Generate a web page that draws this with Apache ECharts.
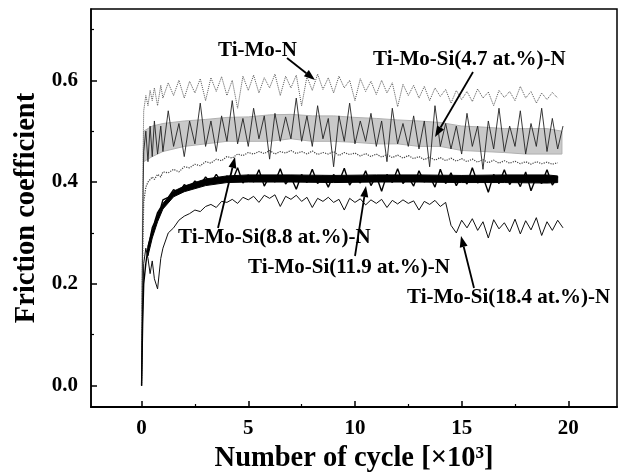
<!DOCTYPE html>
<html>
<head>
<meta charset="utf-8">
<script src="https://cdn.jsdelivr.net/npm/echarts@6/dist/echarts.min.js"></script>
<style>
html,body{margin:0;padding:0;background:#fff;}
#chart{width:622px;height:475px;}
</style>
</head>
<body>
<div id="chart"></div>
<script>
// ---- data (cycles in units of 10^3) ----
const cycles = [0, 0.05, 0.1, 0.2, 0.3, 0.4, 0.5, 0.6, 0.75, 0.9, 1.0,
  1.25, 1.5, 1.75, 2.0, 2.25, 2.5, 2.75, 3.0, 3.25, 3.5, 3.75, 4.0, 4.25, 4.5, 4.75,
  5.0, 5.25, 5.5, 5.75, 6.0, 6.25, 6.5, 6.75, 7.0, 7.25, 7.5, 7.75, 8.0, 8.25, 8.5, 8.75,
  9.0, 9.25, 9.5, 9.75, 10.0, 10.25, 10.5, 10.75, 11.0, 11.25, 11.5, 11.75, 12.0, 12.25,
  12.5, 12.75, 13.0, 13.25, 13.5, 13.75, 14.0, 14.25, 14.5, 14.75, 15.0, 15.25, 15.5, 15.75,
  16.0, 16.25, 16.5, 16.75, 17.0, 17.25, 17.5, 17.75, 18.0, 18.25, 18.5, 18.75, 19.0, 19.25,
  19.5, 19.75];

const tiMoN = [0.00, 0.40, 0.54, 0.57, 0.55, 0.58, 0.56, 0.585, 0.55, 0.59, 0.565,
  0.595, 0.57, 0.60, 0.565, 0.598, 0.575, 0.603, 0.56, 0.605, 0.578, 0.607, 0.57, 0.60, 0.545, 0.608,
  0.58, 0.61, 0.575, 0.605, 0.585, 0.612, 0.57, 0.608, 0.585, 0.61, 0.55, 0.607, 0.58, 0.612, 0.582, 0.605,
  0.575, 0.608, 0.585, 0.60, 0.56, 0.603, 0.578, 0.598, 0.572, 0.60, 0.575, 0.595, 0.548, 0.592,
  0.57, 0.59, 0.565, 0.588, 0.56, 0.585, 0.568, 0.582, 0.555, 0.58, 0.562, 0.578, 0.558, 0.583,
  0.565, 0.577, 0.55, 0.58, 0.566, 0.578, 0.56, 0.588, 0.565, 0.578, 0.555, 0.575, 0.562, 0.576,
  0.565, null];

const tiMoSi47 = [0.00, 0.30, 0.46, 0.50, 0.44, 0.51, 0.45, 0.52, 0.455, 0.51, 0.46,
  0.54, 0.47, 0.515, 0.45, 0.52, 0.475, 0.555, 0.47, 0.52, 0.46, 0.53, 0.48, 0.56, 0.475, 0.525,
  0.47, 0.545, 0.485, 0.53, 0.445, 0.535, 0.48, 0.528, 0.485, 0.565, 0.48, 0.53, 0.47, 0.55, 0.485, 0.525,
  0.43, 0.53, 0.48, 0.555, 0.475, 0.52, 0.48, 0.535, 0.47, 0.52, 0.44, 0.545, 0.475, 0.515,
  0.47, 0.53, 0.465, 0.52, 0.43, 0.55, 0.47, 0.515, 0.465, 0.51, 0.455, 0.535, 0.47, 0.51,
  0.425, 0.52, 0.465, 0.545, 0.46, 0.51, 0.47, 0.54, 0.455, 0.515, 0.47, 0.545, 0.46, 0.525,
  0.465, 0.51];

// stippled grey envelope of the Ti-Mo-Si(4.7 at.%)-N trace
const band47X    = [0.1, 0.5, 1, 2, 3, 4, 5, 6, 7, 8, 9, 10, 11, 12, 13, 14, 15, 16, 17, 18, 19, 19.7];
const band47Low  = [0.44, 0.45, 0.46, 0.47, 0.475, 0.48, 0.48, 0.48, 0.485, 0.48, 0.48, 0.478,
  0.475, 0.475, 0.47, 0.47, 0.462, 0.46, 0.458, 0.455, 0.455, 0.455];
const band47High = [0.50, 0.51, 0.515, 0.52, 0.523, 0.527, 0.528, 0.532, 0.533, 0.53, 0.53, 0.527,
  0.525, 0.522, 0.52, 0.517, 0.51, 0.508, 0.505, 0.505, 0.505, 0.50];

const tiMoSi88 = [0.00, 0.25, 0.36, 0.39, 0.40, 0.405, 0.41, 0.405, 0.415, 0.41, 0.42,
  0.418, 0.425, 0.42, 0.43, 0.428, 0.435, 0.432, 0.44, 0.437, 0.445, 0.442, 0.45, 0.447, 0.455, 0.452,
  0.458, 0.455, 0.46, 0.456, 0.462, 0.455, 0.46, 0.457, 0.462, 0.456, 0.46, 0.455, 0.461, 0.454, 0.458, 0.455,
  0.46, 0.452, 0.458, 0.454, 0.457, 0.451, 0.456, 0.45, 0.455, 0.449, 0.454, 0.448, 0.453, 0.447,
  0.452, 0.446, 0.45, 0.444, 0.449, 0.443, 0.448, 0.442, 0.447, 0.441, 0.446, 0.44, 0.445, 0.439,
  0.444, 0.438, 0.443, 0.437, 0.442, 0.437, 0.441, 0.436, 0.44, 0.435, 0.44, 0.436, 0.439, 0.435,
  0.438, null];

const tiMoSi119 = [0.00, 0.12, 0.20, 0.24, 0.27, 0.29, 0.31, 0.32, 0.34, 0.35, 0.365,
  0.37, 0.385, 0.378, 0.395, 0.388, 0.402, 0.394, 0.41, 0.398, 0.415, 0.40, 0.412, 0.402, 0.428, 0.398,
  0.414, 0.40, 0.424, 0.392, 0.412, 0.40, 0.426, 0.396, 0.41, 0.386, 0.415, 0.399, 0.425, 0.397, 0.412, 0.39,
  0.415, 0.40, 0.427, 0.394, 0.41, 0.398, 0.422, 0.393, 0.412, 0.382, 0.415, 0.399, 0.426, 0.397,
  0.41, 0.392, 0.422, 0.4, 0.412, 0.39, 0.425, 0.397, 0.418, 0.393, 0.412, 0.396, 0.428, 0.398,
  0.41, 0.38, 0.415, 0.397, 0.424, 0.395, 0.412, 0.391, 0.42, 0.383, 0.41, 0.397, 0.424, 0.394,
  0.41, null];

// dense black core of the Ti-Mo-Si(11.9 at.%)-N trace
const band119X    = [0.3, 0.5, 0.75, 1, 1.5, 2, 3, 4, 5, 7, 9, 11, 13, 15, 17, 19, 19.5];
const band119Low  = [0.255, 0.29, 0.322, 0.347, 0.371, 0.381, 0.393, 0.399, 0.4, 0.4, 0.399,
  0.4, 0.4, 0.399, 0.399, 0.398, 0.399];
const band119High = [0.275, 0.305, 0.336, 0.358, 0.382, 0.392, 0.406, 0.412, 0.414, 0.414, 0.413,
  0.414, 0.414, 0.413, 0.414, 0.414, 0.412];

const tiMoSi184 = [0.00, 0.15, 0.24, 0.27, 0.25, 0.22, 0.245, 0.21, 0.19, 0.25, 0.27,
  0.30, 0.31, 0.325, 0.333, 0.338, 0.345, 0.342, 0.352, 0.356, 0.35, 0.362, 0.36, 0.366, 0.358, 0.37,
  0.365, 0.372, 0.36, 0.374, 0.368, 0.375, 0.352, 0.372, 0.366, 0.374, 0.362, 0.37, 0.35, 0.368, 0.362, 0.37,
  0.36, 0.366, 0.345, 0.368, 0.36, 0.367, 0.355, 0.365, 0.358, 0.366, 0.35, 0.364, 0.357, 0.365,
  0.358, 0.363, 0.345, 0.362, 0.356, 0.364, 0.352, 0.36, 0.315, 0.30, 0.325, 0.31, 0.328, 0.305,
  0.322, 0.29, 0.326, 0.308, 0.32, 0.302, 0.327, 0.298, 0.324, 0.306, 0.33, 0.295, 0.322, 0.305,
  0.325, 0.31];

const xMajorTicks = [0, 5, 10, 15, 20];
const xMinorTicks = [2.5, 7.5, 12.5, 17.5];
const yMajorTicks = [0.0, 0.2, 0.4, 0.6];
const yMinorTicks = [0.1, 0.3, 0.5, 0.7];

const seriesNames = ['Ti-Mo-N', 'Ti-Mo-Si(4.7 at.%)-N', 'Ti-Mo-Si(8.8 at.%)-N',
  'Ti-Mo-Si(11.9 at.%)-N', 'Ti-Mo-Si(18.4 at.%)-N'];

// ---- helpers ----
function pairs(ys) {
  const out = [];
  for (let i = 0; i < cycles.length; i++) {
    if (ys[i] !== null && ys[i] !== undefined) out.push([cycles[i], ys[i]]);
  }
  return out;
}
function envelopeSeries(name, xs, lows, highs, fill, stroke, z) {
  return { name: name, type: 'custom', z: z, silent: true,
    data: [[xs[0], lows[0]]],
    renderItem: function (params, api) {
      const pts = [];
      for (let i = 0; i < xs.length; i++) pts.push(api.coord([xs[i], highs[i]]));
      for (let i = xs.length - 1; i >= 0; i--) pts.push(api.coord([xs[i], lows[i]]));
      return { type: 'polygon', shape: { points: pts }, style: { fill: fill, stroke: stroke, lineWidth: 1 } };
    } };
}
const FONT = '"Liberation Serif", "Times New Roman", serif';

function arrow(x1, y1, x2, y2) {
  const ang = Math.atan2(y2 - y1, x2 - x1);
  const L = 11, W = 4;
  const bx = x2 - L * Math.cos(ang), by = y2 - L * Math.sin(ang);
  const px = -Math.sin(ang) * W, py = Math.cos(ang) * W;
  return [
    { type: 'line', silent: true, z: 100, shape: { x1: x1, y1: y1, x2: bx, y2: by },
      style: { stroke: '#000', lineWidth: 1.8 } },
    { type: 'polygon', silent: true, z: 100,
      shape: { points: [[x2, y2], [bx + px, by + py], [bx - px, by - py]] },
      style: { fill: '#000' } }
  ];
}
function label(txt, x, y) {
  return { type: 'text', silent: true, z: 100, x: x, y: y,
    style: { text: txt, font: 'bold 21px ' + FONT, fill: '#000',
      textAlign: 'left', align: 'left', textVerticalAlign: 'middle', verticalAlign: 'middle' } };
}

const chart = echarts.init(document.getElementById('chart'), null, { renderer: 'canvas' });

const axisFont = { fontFamily: FONT, fontWeight: 'bold', fontSize: 21, color: '#000' };
const nameFont = { fontFamily: FONT, fontWeight: 'bold', fontSize: 28.5, color: '#000' };
const XMIN = -2.37, XMAX = 22.28, YMIN = -0.042, YMAX = 0.74;

const option = {
  animation: false,
  backgroundColor: '#fff',
  grid: { left: 91, right: 5, top: 9, bottom: 68, show: true, borderColor: '#000', borderWidth: 1.5,
    containLabel: false, outerBoundsMode: 'none' },
  xAxis: [
    { type: 'value', min: XMIN, max: XMAX, position: 'bottom',
      axisLine: { show: true, onZero: false, lineStyle: { color: '#000', width: 2 } },
      axisTick: { show: true, inside: true, length: 6, customValues: xMajorTicks, lineStyle: { color: '#000', width: 1.5 } },
      axisLabel: Object.assign({ customValues: xMajorTicks, margin: 11 }, axisFont),
      splitLine: { show: false },
      name: 'Number of cycle [×10³]', nameLocation: 'middle', nameGap: 37, nameTextStyle: nameFont },
    { type: 'value', min: XMIN, max: XMAX, position: 'bottom',
      axisLine: { show: false, onZero: false },
      axisTick: { show: true, inside: true, length: 3, customValues: xMinorTicks, lineStyle: { color: '#000', width: 1.2 } },
      axisLabel: { show: false }, splitLine: { show: false } }
  ],
  yAxis: [
    { type: 'value', min: YMIN, max: YMAX, position: 'left',
      axisLine: { show: true, onZero: false, lineStyle: { color: '#000', width: 1.5 } },
      axisTick: { show: true, inside: true, length: 6, customValues: yMajorTicks, lineStyle: { color: '#000', width: 1.5 } },
      axisLabel: Object.assign({ customValues: yMajorTicks, margin: 13, formatter: v => Number(v).toFixed(1) }, axisFont),
      splitLine: { show: false },
      name: 'Friction coefficient', nameLocation: 'middle', nameGap: 43, nameTextStyle: nameFont },
    { type: 'value', min: YMIN, max: YMAX, position: 'left',
      axisLine: { show: false, onZero: false },
      axisTick: { show: true, inside: true, length: 3, customValues: yMinorTicks, lineStyle: { color: '#000', width: 1.2 } },
      axisLabel: { show: false }, splitLine: { show: false } }
  ],
  series: [
    envelopeSeries(seriesNames[1] + ' envelope', band47X, band47Low, band47High, '#c9c9c9', '#b0b0b0', 1),
    { name: seriesNames[0], type: 'line', data: pairs(tiMoN), showSymbol: false, symbol: 'none', z: 2,
      lineStyle: { color: '#555', width: 1, type: 'dotted' } },
    { name: seriesNames[1], type: 'line', data: pairs(tiMoSi47), showSymbol: false, symbol: 'none', z: 3,
      lineStyle: { color: '#222', width: 0.9 } },
    { name: seriesNames[2], type: 'line', data: pairs(tiMoSi88), showSymbol: false, symbol: 'none', z: 3,
      lineStyle: { color: '#444', width: 1.2, type: 'dotted' } },
    { name: seriesNames[4], type: 'line', data: pairs(tiMoSi184), showSymbol: false, symbol: 'none', z: 4,
      lineStyle: { color: '#111', width: 1 } },
    envelopeSeries(seriesNames[3] + ' core', band119X, band119Low, band119High, '#000', '#000', 5),
    { name: seriesNames[3], type: 'line', data: pairs(tiMoSi119), showSymbol: false, symbol: 'none', z: 6,
      lineStyle: { color: '#000', width: 1.4 } }
  ],
  graphic: [].concat(
    [label(seriesNames[0], 218, 51),
     label(seriesNames[1], 373, 60),
     label(seriesNames[2], 178, 238),
     label(seriesNames[3], 248, 268),
     label(seriesNames[4], 407, 298)],
    arrow(287, 58, 315, 80),
    arrow(473, 72, 435, 137),
    arrow(218, 228, 235, 157),
    arrow(355, 256, 366, 186),
    arrow(474, 288, 461, 236)
  )
};
chart.setOption(option);
</script>
</body>
</html>
